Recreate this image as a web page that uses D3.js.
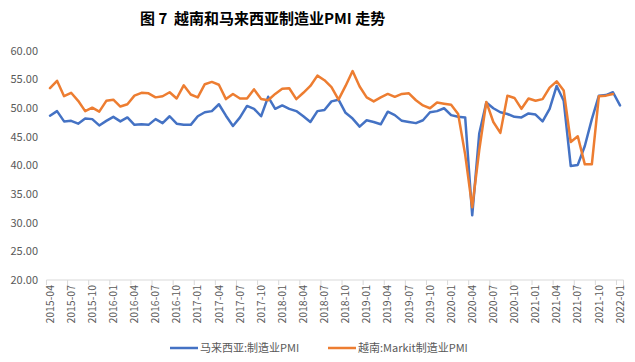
<!DOCTYPE html>
<html>
<head>
<meta charset="utf-8">
<script src="https://cdn.jsdelivr.net/npm/d3@7"></script>
<style>
  body { margin: 0; background: #fff; }
  text { font-family: "Noto Sans CJK SC", "Liberation Sans", sans-serif; }
</style>
</head>
<body>
<div id="chart"></div>
<script>
// PMI chart: Malaysia vs Vietnam, monthly 2015-04 .. 2022-01
const svgWidth = 635;
const svgHeight = 362;

const titleText = "图 7  越南和马来西亚制造业PMI 走势";
const seriesNames = ["马来西亚:制造业PMI", "越南:Markit制造业PMI"];
const seriesColors = ["#4472C4", "#ED7D31"];

// categories: every month from 2015-04 to 2022-01
const months = d3.timeMonth.range(new Date(2015, 3, 1), new Date(2022, 1, 1)).map(d3.timeFormat("%Y-%m"));

const malaysia = [48.7, 49.5, 47.7, 47.8, 47.3, 48.2, 48.1, 47.0, 47.8, 48.5,
  47.7, 48.4, 47.1, 47.2, 47.1, 48.1, 47.4, 48.6, 47.3, 47.1,
  47.1, 48.6, 49.3, 49.5, 50.7, 48.7, 46.9, 48.4, 50.4, 49.9,
  48.6, 52.0, 49.9, 50.5, 49.9, 49.5, 48.6, 47.6, 49.5, 49.7,
  51.2, 51.5, 49.2, 48.2, 46.8, 47.9, 47.6, 47.2, 49.4, 48.8,
  47.8, 47.6, 47.4, 47.9, 49.3, 49.5, 50.0, 48.8, 48.5, 48.4,
  31.3, 45.6, 51.0, 50.0, 49.3, 49.0, 48.5, 48.4, 49.1, 48.9,
  47.7, 49.9, 53.9, 51.3, 39.9, 40.1, 43.4, 48.1, 52.2, 52.3,
  52.8, 50.5];

const vietnam = [53.5, 54.8, 52.1, 52.7, 51.3, 49.5, 50.1, 49.4, 51.3, 51.5,
  50.3, 50.7, 52.2, 52.7, 52.6, 51.9, 52.1, 52.8, 51.7, 54.0,
  52.4, 51.9, 54.2, 54.6, 54.1, 51.6, 52.5, 51.7, 51.7, 53.3,
  51.6, 51.4, 52.5, 53.4, 53.5, 51.6, 52.7, 53.9, 55.7, 54.9,
  53.7, 51.5, 53.9, 56.5, 53.8, 51.9, 51.2, 51.9, 52.5, 52.0,
  52.5, 52.6, 51.4, 50.5, 50.0, 51.0, 50.8, 50.6, 49.0, 41.9,
  32.7, 42.7, 51.1, 47.6, 45.7, 52.2, 51.8, 49.9, 51.7, 51.3,
  51.6, 53.6, 54.7, 53.1, 44.1, 45.1, 40.2, 40.2, 52.1, 52.2,
  52.5];

const yTicks = [20, 25, 30, 35, 40, 45, 50, 55, 60];

let svg = d3.select("#chart")
  .append("svg")
  .attr("width", svgWidth)
  .attr("height", svgHeight);

// title
svg.append("text")
  .attr("x", 140)
  .attr("y", 24)
  .style("font-size", "15px")
  .style("font-weight", "bold")
  .style("white-space", "pre")
  .attr("fill", "#000")
  .text(titleText);

// scales (category axis, points in the middle of each slot)
const x = d3.scalePoint()
  .domain(months)
  .range([50, 620]);
const step = x.step();

const y = d3.scaleLinear()
  .domain([20, 60])
  .range([280, 51]);

// y labels, no axis line
svg.append("g")
  .selectAll("text")
  .data(yTicks)
  .join("text")
  .attr("x", 38)
  .attr("y", d => y(d))
  .attr("dy", "0.35em")
  .attr("text-anchor", "end")
  .style("font-size", "11px")
  .attr("fill", "#595959")
  .text(d => d3.format(".2f")(d));

// x axis line + ticks every 3 months
const xg = svg.append("g");
xg.append("line")
  .attr("x1", x(months[0]) - step / 2)
  .attr("x2", x(months[months.length - 1]) + step / 2)
  .attr("y1", y(20)).attr("y2", y(20))
  .attr("stroke", "#d9d9d9");

const shown = months.filter((m, i) => i % 3 == 0);

xg.selectAll(".tick")
  .data(shown.concat([null]))
  .join("line")
  .attr("class", "tick")
  .attr("x1", d => d ? x(d) - step / 2 : x(months[months.length - 1]) + step / 2)
  .attr("x2", d => d ? x(d) - step / 2 : x(months[months.length - 1]) + step / 2)
  .attr("y1", y(20)).attr("y2", y(20) + 5)
  .attr("stroke", "#d9d9d9");

xg.selectAll(".lbl")
  .data(shown)
  .join("text")
  .attr("class", "lbl")
  .attr("transform", d => "translate(" + [x(d), 285] + ") rotate(-90)")
  .attr("dy", "0.35em")
  .attr("text-anchor", "end")
  .style("font-size", "10.5px")
  .attr("fill", "#595959")
  .text(d => d);

// lines
const line = d3.line()
  .x((d, i) => x(months[i]))
  .y(d => y(d));

[malaysia, vietnam].forEach((s, k) => {
  svg.append("path")
    .attr("d", line(s))
    .attr("fill", "none")
    .attr("stroke", seriesColors[k])
    .attr("stroke-width", 2.5)
    .attr("stroke-linejoin", "round")
    .attr("stroke-linecap", "round");
});

// legend
const legendX = [170, 328];
seriesNames.forEach((name, k) => {
  svg.append("line")
    .attr("x1", legendX[k]).attr("x2", legendX[k] + 28)
    .attr("y1", 348).attr("y2", 348)
    .attr("stroke", seriesColors[k])
    .attr("stroke-width", 2.5);
  svg.append("text")
    .attr("x", legendX[k] + 30)
    .attr("y", 348)
    .attr("dy", "0.35em")
    .style("font-size", "11px")
    .attr("fill", "#595959")
    .text(name);
});
</script>
</body>
</html>
